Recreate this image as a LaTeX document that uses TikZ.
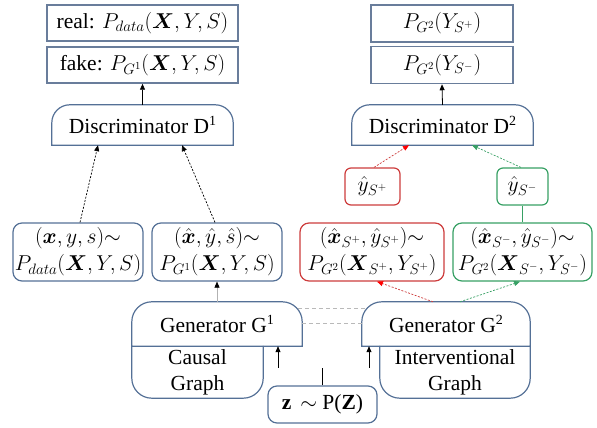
\documentclass[tikz,border=0pt]{standalone}
\usepackage{fix-cm}
\usepackage{amsmath}
\usepackage{fontspec}
\setmainfont{Liberation Serif}
\usetikzlibrary{arrows.meta,calc}
\definecolor{bx}{RGB}{84,112,150}
\definecolor{bxtop}{RGB}{105,125,155}
\definecolor{rc}{RGB}{205,60,60}
\definecolor{gc}{RGB}{55,160,100}
\newcommand\supnum[1]{\raisebox{0.75ex}{\fontsize{14}{14}\selectfont #1}}
\begin{document}
\begin{tikzpicture}[x=1pt,y=1pt,
  every node/.style={font=\fontsize{21.5}{26}\selectfont, inner sep=0pt, align=center},
  sqbox/.style={draw=bxtop, line width=1.5pt},
  rbox/.style={draw=bx, line width=1.2pt, rounded corners=9pt},
  outl/.style={draw=bx, line width=1.2pt},
  tip/.style={-{Triangle[length=6pt,width=5pt]}},
  arr/.style={tip, line width=0.8pt},
  dl/.style={dash pattern=on 2pt off 1.5pt, line width=0.7pt},
  gdash/.style={draw=gray!55, dash pattern=on 4pt off 3pt, line width=0.8pt}]
\useasboundingbox (0,0) rectangle (597,428);

% top boxes
\node[sqbox, minimum width=191, minimum height=36] (real) at (142.5,405) {real: $P_{data}(\boldsymbol{X},Y,S)$};
\node[sqbox, minimum width=191, minimum height=36] (fake) at (142.5,363) {fake: $P_{G^1}(\boldsymbol{X},Y,S)$};
\node[sqbox, minimum width=142, minimum height=37] (py1) at (442,404.5) {$P_{G^2}(Y_{S^+})$};
\node[sqbox, minimum width=142, minimum height=37] (py2) at (442,363) {$P_{G^2}(Y_{S^-})$};

% discriminators
\node[minimum width=181, minimum height=40] (d1) at (142.5,303) {Discriminator D\supnum{1}};
\node[minimum width=181, minimum height=40] (d2) at (442.5,303) {Discriminator D\supnum{2}};
\foreach \n in {d1,d2}{
  \draw[outl] (\n.south west) -- ([yshift=-18pt]\n.north west) arc[start angle=180,end angle=90,radius=18]
    -- ([xshift=-18pt]\n.north east) arc[start angle=90,end angle=0,radius=18] -- (\n.south east) -- cycle;
}

% y hat boxes
\node[rbox, draw=rc, rounded corners=6pt, minimum width=55, minimum height=37] (yp) at (372.5,241.5) {$\hat{y}_{S^+}$};
\node[rbox, draw=gc, rounded corners=6pt, minimum width=51, minimum height=37] (yn) at (522.5,241.5) {$\hat{y}_{S^-}$};

% sample boxes
\node[rbox, minimum width=130, minimum height=58, font=\fontsize{21.5}{27}\selectfont] (l1) at (78,176)
  {$(\boldsymbol{x},y,s){\sim}$\\$P_{data}(\boldsymbol{X},Y,S)$};
\node[rbox, minimum width=130, minimum height=58, font=\fontsize{21.5}{27}\selectfont] (l2) at (217,176)
  {$(\hat{\boldsymbol{x}},\hat{y},\hat{s}){\sim}$\\$P_{G^1}(\boldsymbol{X},Y,S)$};
\node[rbox, draw=rc, minimum width=144, minimum height=58, font=\fontsize{21.5}{27}\selectfont] (rb) at (372,176)
  {$(\hat{\boldsymbol{x}}_{S^+},\hat{y}_{S^+}){\sim}$\\$P_{G^2}(\boldsymbol{X}_{S^+},Y_{S^+})$};
\node[rbox, draw=gc, minimum width=139, minimum height=58, font=\fontsize{21.5}{27}\selectfont] (gb) at (522.5,176)
  {$(\hat{\boldsymbol{x}}_{S^-},\hat{y}_{S^-}){\sim}$\\$P_{G^2}(\boldsymbol{X}_{S^-},Y_{S^-})$};

% generators
\node[minimum width=170, minimum height=44] (g1) at (217,104) {Generator G\supnum{1}};
\node[minimum width=131, minimum height=52] (c1) at (197.5,56) {Causal\\Graph};
\node[minimum width=168, minimum height=44] (g2) at (446,104) {Generator G\supnum{2}};
\node[minimum width=150, minimum height=52] (c2) at (455,56) {Interventional\\Graph};
\foreach \n in {g1,g2}{
  \draw[outl] (\n.south west) -- ([yshift=-20pt]\n.north west) arc[start angle=180,end angle=90,radius=20]
    -- ([xshift=-20pt]\n.north east) arc[start angle=90,end angle=0,radius=20] -- (\n.south east) -- cycle;
}
\foreach \n in {c1,c2}{
  \draw[outl] (\n.north west) -- ([yshift=20pt]\n.south west) arc[start angle=180,end angle=270,radius=20]
    -- ([xshift=-20pt]\n.south east) arc[start angle=270,end angle=360,radius=20] -- (\n.north east);
}

% noise
\node[rbox, minimum width=109, minimum height=37] (z) at (322.5,23.5) {\textbf{z} \,$\sim$ P(\textbf{Z})};
\coordinate (zt) at (322.5,60);
\coordinate (a1) at (278,60);
\coordinate (a2) at (369,60);
\draw[line width=0.8pt] (z.north) -- (zt);
\draw[arr] (a1) -- (a1 |- g1.south);
\draw[arr] (a2) -- (a2 |- g2.south);

% dashed links between generators
\draw[gdash] ($(g1.north east)+(-4,-7)$) -- ($(g2.north west)+(4,-7)$);
\draw[gdash] ([yshift=1pt]g1.east) -- ([yshift=1pt]g2.west);

% connectors
\draw[arr] (d1.north) -- (fake.south);
\draw[arr] (d2.north) -- (py2.south);
\draw[dl, tip] ($(l1.north)+(2,0)$) -- ($(d1.south)+(-44.5,0)$);
\draw[dl, tip] ($(l2.north)+(-2,0)$) -- ($(d1.south)+(39.5,0)$);
\draw[draw=gray!60, line width=0.6pt, -{Triangle[length=6pt,width=5pt,color=black]}] (g1.north) -- (l2.south);
\draw[dl, draw=rc, -{Triangle[length=6pt,width=5pt,color=red]}] ($(g2.north)+(-13,0)$) -- ($(rb.south)+(5,0)$);
\draw[dl, draw=gc, -{Triangle[length=6pt,width=5pt,color=gc]}] ($(g2.north)+(14,0)$) -- ($(gb.south)+(-2.5,0)$);
\draw[dl, draw=rc, -{Triangle[length=6pt,width=5pt,color=red]}] ($(yp.north)+(1.5,0)$) -- ($(d2.south)+(-33.5,0)$);
\draw[dl, draw=gc, -{Triangle[length=6pt,width=5pt,color=gc]}] ($(yn.north)+(-1.5,0)$) -- ($(d2.south)+(29.5,0)$);
\draw[draw=gc, line width=0.9pt] (yn.south) -- (gb.north);
\end{tikzpicture}
\end{document}
